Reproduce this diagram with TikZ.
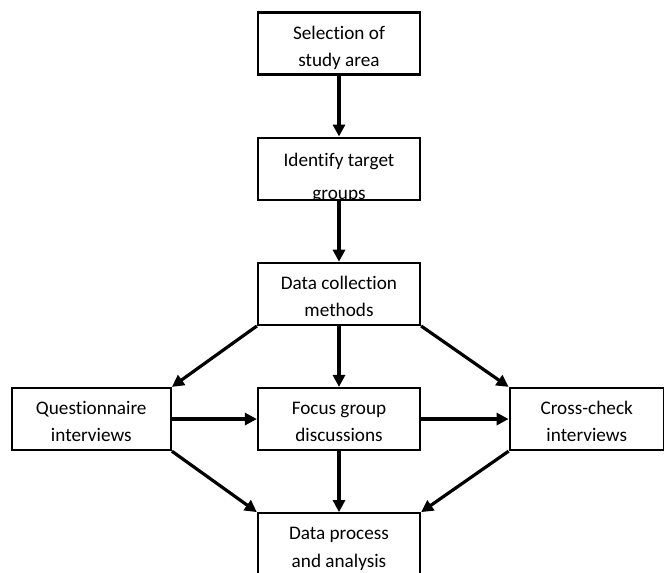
\documentclass[tikz,border=0pt]{standalone}
\usepackage{fontspec}
\setmainfont{Carlito}[Ligatures=NoCommon]
\usepackage{tikz}
\usetikzlibrary{arrows.meta, positioning}

\begin{document}
\begin{tikzpicture}[node distance=3.3cm,on grid,auto]
    \tikzstyle{txt}=[draw=none,align=center,inner sep=0pt,font=\fontsize{14.4pt}{20.5pt}\selectfont,text height=38.4pt,text depth=4pt]
    \tikzstyle{block}=[txt,shape=rectangle,draw,line width=1.7pt,minimum width=121.5pt,minimum height=46.5pt]
    \tikzstyle{flow}=[draw,-{Triangle[length=9pt,width=9pt]},line width=2.4pt]

    \useasboundingbox (-254.25pt,32.6pt) rectangle (243.75pt,-396.4pt);

    \node[block] (sel) {Selection of\\study area};
    \node[block,below of=sel,path picture={
        \node[txt,text height=49.8pt] at (path picture bounding box.center) {Identify target\\[3.9pt]groups};}] (ident) {};
    \node[block,below of=ident] (dcm) {Data collection\\methods};
    \node[block,below of=dcm] (focus) {Focus group\\discussions};
    \node[block,node distance=6.53cm,left of=focus,minimum width=119.25pt] (quest) {Questionnaire\\interviews};
    \node[block,node distance=6.53cm,right of=focus,minimum width=115.5pt] (cross) {Cross-check\\interviews};
    \node[block,below of=focus] (dpa) {Data process\\and analysis};

    \path[every edge/.append style=flow]
    (sel) edge (ident)
    (ident) edge (dcm)
    (dcm) edge (focus)
    (dcm.south west) edge (quest.north east)
    (dcm.south east) edge (cross.north west)
    (quest) edge (focus)
    (focus) edge (cross)
    (focus) edge (dpa)
    (quest.south east) edge (dpa.north west)
    (cross.south west) edge (dpa.north east)
   ;
\end{tikzpicture}
\end{document}
